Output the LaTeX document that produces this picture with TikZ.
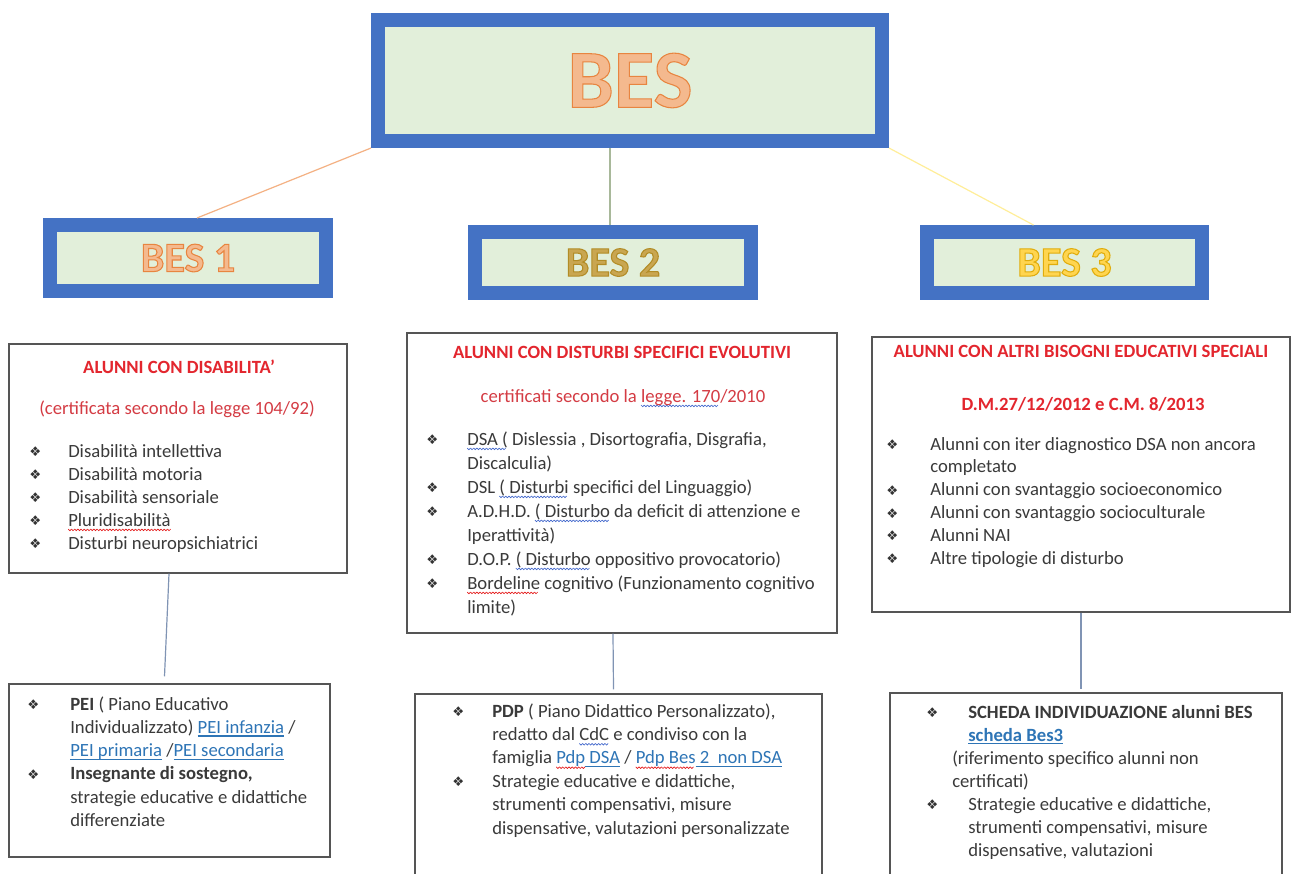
\documentclass[tikz,border=0pt]{standalone}
\usepackage{fontspec}
\setmainfont{Carlito}
\newfontfamily\symf{DejaVu Sans}
\usetikzlibrary{fit,calc}
\definecolor{bblue}{HTML}{4472C4}
\definecolor{bgreen}{HTML}{E2EFDA}
\definecolor{besfill}{HTML}{F4B98E}
\definecolor{b2fill}{HTML}{C9A650}
\definecolor{b3fill}{HTML}{FFD54F}
\definecolor{titred}{HTML}{E3262E}
\definecolor{subred}{HTML}{D43C44}
\definecolor{bodyc}{HTML}{3A3A3A}
\definecolor{linkc}{HTML}{2E75B6}
\definecolor{boxc}{HTML}{555555}
\definecolor{lnor}{HTML}{F4B183}
\definecolor{lngr}{HTML}{A8B89A}
\definecolor{lnye}{HTML}{FFEE99}
\definecolor{lnbl}{HTML}{8094B4}
\newdimen\pxu \pxu=0.75pt
\newsavebox\ulbox
\newsavebox\wvbox
\newcommand\outl[3]{{\color{#1}\special{pdf:literal direct 2 Tr 0.8 w #2 RG}#3\special{pdf:literal direct 0 Tr}}}
\newcommand\wavy[2]{\sbox\wvbox{#2}\rlap{\hbox to\wd\wvbox{\leaders\hbox to 2.4pt{\special{pdf:content #1 RG 0.5 w 0 -2.3 m 1.2 -3.5 l 2.4 -2.3 l S}\hss}\hfil}}\usebox\wvbox}
\newcommand\rw[1]{\wavy{0.9 0.1 0.1}{#1}}
\newcommand\bw[1]{\wavy{0.25 0.4 0.8}{#1}}
\newcommand\lnk[1]{\textcolor{linkc}{\sbox\ulbox{#1}\rlap{\vrule height -1.6pt depth 2.4pt width \wd\ulbox}\usebox\ulbox}}
\newcommand\blt[2]{\hbox{\llap{\hbox to #1\pxu{{\symf\fontsize{10}{10}\selectfont\color{black!80}\raise0.3pt\hbox{❖}}\hss}}#2}}
\newcommand\cl[1]{\hbox{#1}}
\newcommand\lst[2]{\vtop{\baselineskip=#1\pxu\lineskip=0pt\lineskiplimit=-\maxdimen #2}}
\begin{document}
\begin{tikzpicture}[x=0.75pt,y=-0.75pt,
  bigbox/.style={draw=bblue,line width=10.5pt,fill=bgreen,inner sep=0pt},
  txtbox/.style={draw=boxc,line width=1.1pt,inner sep=0pt},
  bodyt/.style={inner sep=0pt,anchor=base west,text=bodyc,font=\fontsize{14}{17}\selectfont},
  titt/.style={inner sep=0pt,anchor=base,text=titred,font=\bfseries\fontsize{14}{17}\selectfont},
  subt/.style={inner sep=0pt,anchor=base,text=subred,font=\fontsize{14}{17}\selectfont},
  conn/.style={line width=0.9pt}]
\useasboundingbox (0,0) rectangle (1297,874);
\clip (0,0) rectangle (1297,874);
\fill[white] (0,0) rectangle (1297,874);

% top level boxes
\node[bigbox, fit={(378,20)(882,141)}] (bes) {};
\node[inner sep=0pt,font=\bfseries\fontsize{62}{62}\selectfont] (besl) at (bes.center) {\outl{besfill}{0.91 0.52 0.25}{BES}};
\node[bigbox, fit={(50,225)(326,291)}] (bes1) {};
\node[inner sep=0pt,font=\bfseries\fontsize{31.5}{32}\selectfont] (bes1l) at (bes1.center) {\outl{besfill}{0.91 0.52 0.25}{BES 1}};
\node[bigbox, fit={(475,232)(751,293)}] (bes2) {};
\node[inner sep=0pt,font=\bfseries\fontsize{31.5}{32}\selectfont] (bes2l) at (bes2.center) {\outl{b2fill}{0.70 0.55 0.15}{BES 2}};
\node[bigbox, fit={(927,232)(1202,293)}] (bes3) {};
\node[inner sep=0pt,font=\bfseries\fontsize{31.5}{32}\selectfont] (bes3l) at (bes3.center) {\outl{b3fill}{0.88 0.68 0.05}{BES 3}};

% connectors top
\draw[conn,lnor] (bes.south west) -- ($(bes1.north)+(9,0)$);
\draw[conn,lngr] ($(bes.south)+(-20,0)$) -- ($(bes2.north)+(-3,0)$);
\draw[conn,lnye] (bes.south east) -- ($(bes3.north)+(-31,0)$);

% description boxes
\node[txtbox, fit={(9,344)(347,573)}] (b1) {};
\node[txtbox, fit={(407,333)(837,633)}] (b2) {};
\node[txtbox, fit={(872,337)(1290,612)}] (b3) {};
\node[txtbox, fit={(9,684)(330,857)}] (b4) {};
\node[txtbox, fit={(415,694)(822,900)}] (b5) {};
\node[txtbox, fit={(890,693)(1282,900)}] (b6) {};

% connectors bottom
\draw[conn,lnbl] ($(b1.south)+(-9,0)$) -- ($(b4.north)+(-5,-7)$);
\draw[conn,lnbl] ($(b2.south)+(-9,0)$) -- ($(b5.north)+(-5,-4)$);
\draw[conn,lnbl] (b3.south) -- ($(b6.north)+(-5,-3)$);

% box 1
\node[titt] (b1t) at (179,373) {ALUNNI CON DISABILITA’};
\node[subt] (b1s) at (177,414) {(certificata secondo la legge 104/92)};
\node[bodyt] (b1l) at (68,457) {\lst{23}{%
  \blt{39}{Disabilità intellettiva}
  \blt{39}{Disabilità motoria}
  \blt{39}{Disabilità sensoriale}
  \blt{39}{\rw{Pluridisabilità}}
  \blt{39}{Disturbi neuropsichiatrici}}};

% box 2
\node[titt] (b2t) at (622,358) {ALUNNI CON DISTURBI SPECIFICI EVOLUTIVI};
\node[subt] (b2s) at (623,402) {certificati secondo la \bw{legge. 170}/2010};
\node[bodyt] (b2l) at (467,445) {\lst{24}{%
  \blt{41}{\bw{DSA (} Dislessia , Disortografia, Disgrafia,}
  \cl{Discalculia)}
  \blt{41}{DSL \bw{( Disturbi} specifici del Linguaggio)}
  \blt{41}{A.D.H.D. \bw{( Disturbo} da deficit di attenzione e}
  \cl{Iperattività)}
  \blt{41}{D.O.P. \bw{( Disturbo} oppositivo provocatorio)}
  \blt{41}{\rw{Bordeline} cognitivo (Funzionamento cognitivo}
  \cl{limite)}}};

% box 3
\node[titt] (b3t) at (1081,357) {ALUNNI CON ALTRI BISOGNI EDUCATIVI SPECIALI};
\node[titt] (b3s) at (1083,410) {D.M.27/12/2012 e C.M. 8/2013};
\node[bodyt] (b3l) at (930,450) {\lst{22.8}{%
  \blt{44}{Alunni con iter diagnostico DSA non ancora}
  \cl{completato}
  \blt{44}{Alunni con svantaggio socioeconomico}
  \blt{44}{Alunni con svantaggio socioculturale}
  \blt{44}{Alunni NAI}
  \blt{44}{Altre tipologie di disturbo}}};

% box 4
\node[bodyt] (b4l) at (70,710) {\lst{23.3}{%
  \blt{43}{\textbf{PEI} ( Piano Educativo}
  \cl{Individualizzato) \lnk{PEI infanzia} /}
  \cl{\lnk{PEI primaria} /\lnk{PEI secondaria}}
  \blt{43}{\textbf{Insegnante di sostegno,}}
  \cl{strategie educative e didattiche}
  \cl{differenziate}}};

% box 5
\node[bodyt] (b5l) at (492,717) {\lst{23.4}{%
  \blt{40}{\textbf{PDP} ( Piano Didattico Personalizzato),}
  \cl{redatto dal \bw{CdC} e condiviso con la}
  \cl{famiglia \textcolor{linkc}{\rw{Pdp}}\lnk{ DSA} / \textcolor{linkc}{\rw{Pdp Bes}}\lnk{ 2\ \ non DSA}}
  \blt{40}{Strategie educative e didattiche,}
  \cl{strumenti compensativi, misure}
  \cl{dispensative, valutazioni personalizzate}}};

% box 6
\node[bodyt] (b6l) at (968,718) {\lst{23}{%
  \blt{42}{\textbf{SCHEDA INDIVIDUAZIONE alunni BES}}
  \cl{\textbf{\lnk{scheda Bes3}}}
  \cl{\kern-16\pxu(riferimento specifico alunni non}
  \cl{\kern-16\pxu certificati)}
  \blt{42}{Strategie educative e didattiche,}
  \cl{strumenti compensativi, misure}
  \cl{dispensative, valutazioni}}};
\end{tikzpicture}
\end{document}
